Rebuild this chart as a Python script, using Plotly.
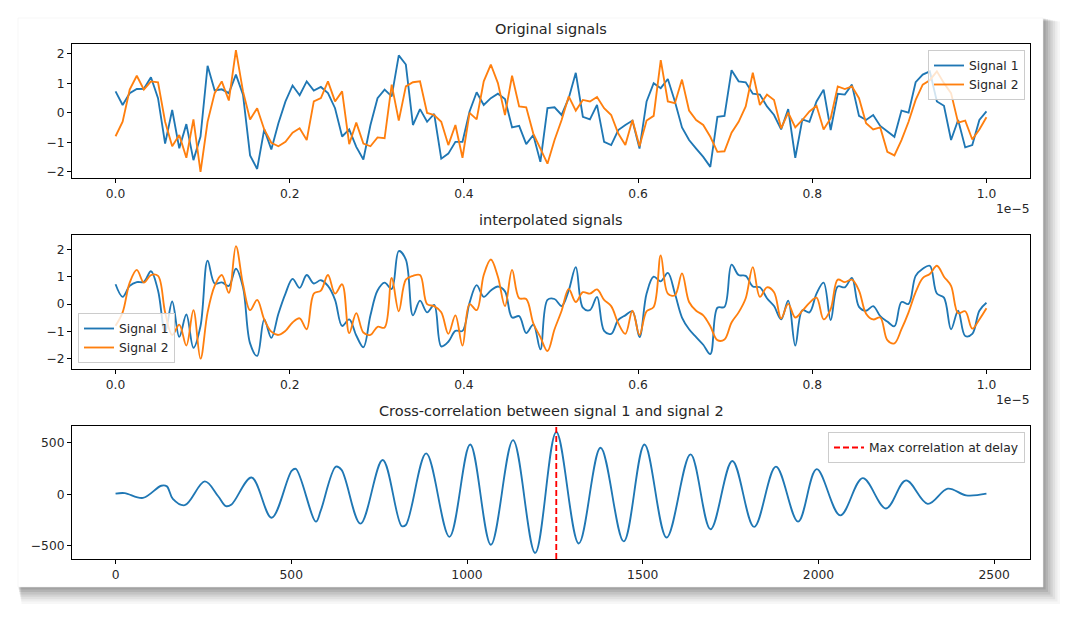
import numpy as np
import plotly.graph_objects as go

"""Original / interpolated signals and their cross-correlation, drawn on a card."""

# the page body keeps its 8px default margin, so the figure is a bit smaller
# than the window and every pixel position is shifted back by that margin
PAGE_MARGIN = 8
W, H = 1080 - 2 * PAGE_MARGIN, 624 - 2 * PAGE_MARGIN

# values (same length, evenly spaced over 0 .. 1e-5 s)
signal_1 = [
    0.73, 0.27, 0.67, 0.81, 0.82, 1.21, 0.5, -1.04, 0.1, -1.2, -0.38, -1.6, -0.8, 1.6,
    0.76, 0.8, 0.67, 1.3, 0.62, -1.44, -1.9, -0.56, -1.24, -0.35, 0.39, 0.93, 0.6, 1.07,
    0.76, 0.88, 0.67, 0.16, -0.8, -0.56, -1.15, -1.58, -0.41, 0.5, 0.79, 0.56, 1.95, 1.64,
    -0.41, 0.13, -0.3, -0.03, -1.55, -1.38, -0.98, -0.98, 0.05, 0.7, 0.27, 0.5, 0.65, 0.47,
    -0.49, -0.44, -1.06, -0.75, -1.66, 0.16, 0.19, -0.07, 0.5, 1.36, -0.13, -0.22, 0.27,
    -0.98, -1.09, -0.58, -0.41, -0.26, -1.21, 0.39, 1.01, 0.84, 1.15, 0.39, -0.49, -0.92,
    -1.21, -1.49, -1.83, -0.13, -0.1, 1.45, 1.07, 1.04, 0.65, 0.62, 0.22, -0.07, -0.56,
    0.13, -1.52, -0.22, -0.3, 0.39, 0.79, -0.58, 0.65, 0.62, 0.96, -0.1, -0.24, -0.07,
    -0.44, -0.64, -0.81, 0.08, 0.01, 1.04, 1.3, 1.41, 0.39, 0.24, -0.92, -0.24, -1.17,
    -1.09, -0.24, 0.05,
]
signal_2 = [
    -0.79, -0.3, 0.79, 1.26, 0.79, 1.07, 1.04, -0.3, -1.13, -0.75, -1.52, -0.22, -2.0,
    -0.3, 0.67, 1.07, 0.42, 2.13, 0.73, -0.22, 0.16, -0.56, -1.01, -1.13, -0.98, -0.67,
    -0.52, -0.92, 0.39, 0.5, 1.07, 0.39, 0.73, -1.06, -0.33, -1.04, -1.13, -0.83, -0.86,
    0.96, -0.26, 0.9,
    1.04, 1.07, 0.0, -0.07, -0.3, -1.09, -0.41, -1.52, 0.0, -0.22, 1.07, 1.64, 1.01,
    -0.07, 1.26, 0.22, 0.19, -0.7, -1.21, -1.72, -0.92, -0.24, 0.56, 0.08, 0.44, 0.39,
    0.54, 0.16, -0.07, -0.7, -1.09, -0.24, -1.13, -0.26, -0.1, 1.79, 0.39, 0.33, 1.13,
    0.08, -0.24,
    -0.41, -0.81, -1.32, -1.3, -0.67, -0.3, 0.22, 1.36, 0.27, 0.62, 0.44, -0.52, 0.01,
    -0.49, -0.24, 0.05, 0.24, -0.56, -0.18, 0.9, 0.81, 0.9, 0.5, -0.35, -0.56, -0.49,
    -1.32, -1.44, -0.92, -0.3, 0.44, 0.96, 1.11, 1.41, 1.01, 0.67, -0.33, -0.26, -0.9,
    -0.56, -0.15,
]
t_end = 1e-5

# cross-correlation: turning points
corr_lags = [
    0, 26, 78, 130, 146, 163, 197, 254, 292, 314, 330, 387, 444, 501, 513, 570, 584,
    627, 643, 697, 760, 814, 826, 884, 950, 1009, 1068, 1131, 1194, 1254, 1318, 1380,
    1446, 1505, 1568, 1636, 1693, 1755, 1817, 1879, 1942, 1995, 2062, 2126, 2192, 2249,
    2311, 2368, 2420, 2478,
]
corr_vals = [
    7, 12, -35, 83, 77, -44, -106, 125, -19, -115, -99, 163, -228, 228, 247, -266, -157,
    269, 237, -285, 333, -308, -298, 397, -413, 484, -490, 526, -570, 605, -478, 452,
    -458, 484, -420, 388, -340, 324, -317, 269, -266, 244, -205, 157, -138, 135, -93, 55,
    -10, 6,
]

x_tick_vals = [0.0, 0.2e-5, 0.4e-5, 0.6e-5, 0.8e-5, 1.0e-5]
x_tick_text = ["0.0", "0.2", "0.4", "0.6", "0.8", "1.0"]
lag_tick_vals = [0, 500, 1000, 1500, 2000, 2500]

BLUE, ORANGE = "#1f77b4", "#ff7f0e"
FONT = "DejaVu Sans"

# card and axes boxes in window pixels
card = (18, 18, 1043, 587)
ax_left, ax_right = 72, 1030
panels = [(44, 178), (235, 369), (426, 559)]


def px_x(v):
    return (v - PAGE_MARGIN) / W


def px_y(v):
    return 1 - (v - PAGE_MARGIN) / H


def padded(lo, hi, frac=0.05):
    span = hi - lo
    return [lo - span * frac, hi + span * frac]


t1 = np.linspace(0, t_end, len(signal_1))
t2 = np.linspace(0, t_end, len(signal_2))
sig_range = padded(min(min(signal_1), min(signal_2)), max(max(signal_1), max(signal_2)))
interp_range = padded(sig_range[0] + 0.05, sig_range[1] - 0.02)
t_range = padded(0, t_end)
lag_range = padded(0, max(corr_lags))
corr_range = padded(min(corr_vals), max(corr_vals))
max_lag = corr_lags[int(np.argmax(corr_vals))]

fig = go.Figure()

line_w = 1.85
fig.add_trace(go.Scatter(x=t1, y=signal_1, mode="lines", name="Signal 1",
                         line=dict(color=BLUE, width=line_w), xaxis="x", yaxis="y",
                         legend="legend"))
fig.add_trace(go.Scatter(x=t2, y=signal_2, mode="lines", name="Signal 2",
                         line=dict(color=ORANGE, width=line_w), xaxis="x", yaxis="y",
                         legend="legend"))
fig.add_trace(go.Scatter(x=t1, y=signal_1, mode="lines", name="Signal 1",
                         line=dict(color=BLUE, width=line_w, shape="spline", smoothing=1.0),
                         xaxis="x2", yaxis="y2", legend="legend2"))
fig.add_trace(go.Scatter(x=t2, y=signal_2, mode="lines", name="Signal 2",
                         line=dict(color=ORANGE, width=line_w, shape="spline", smoothing=1.0),
                         xaxis="x2", yaxis="y2", legend="legend2"))
fig.add_trace(go.Scatter(x=corr_lags, y=corr_vals, mode="lines", showlegend=False,
                         line=dict(color=BLUE, width=line_w, shape="spline", smoothing=1.0),
                         xaxis="x3", yaxis="y3"))
fig.add_trace(go.Scatter(x=[max_lag, max_lag], y=corr_range, mode="lines",
                         name="Max correlation at delay",
                         line=dict(color="#ff0000", width=line_w, dash="6px,3px"),
                         xaxis="x3", yaxis="y3", legend="legend3"))

axis_common = dict(
    showgrid=False, zeroline=False, showline=True, mirror=True, linecolor="black",
    linewidth=1, ticks="outside", ticklen=4, tickwidth=1, tickcolor="black",
    tickfont=dict(family=FONT, size=12.3, color="#262626"), automargin=False,
)
x_dom = [px_x(ax_left), px_x(ax_right)]
layout_axes = {}
for i, (top, bottom) in enumerate(panels, start=1):
    sfx = "" if i == 1 else str(i)
    y_dom = [px_y(bottom), px_y(top)]
    layout_axes["xaxis" + sfx] = dict(axis_common, domain=x_dom, anchor="y" + sfx)
    layout_axes["yaxis" + sfx] = dict(axis_common, domain=y_dom, anchor="x" + sfx)

layout_axes["xaxis"].update(range=t_range, tickvals=x_tick_vals, ticktext=x_tick_text)
layout_axes["xaxis2"].update(range=t_range, tickvals=x_tick_vals, ticktext=x_tick_text)
layout_axes["xaxis3"].update(range=lag_range, tickvals=lag_tick_vals)
layout_axes["yaxis"].update(range=sig_range, dtick=1)
layout_axes["yaxis2"].update(range=interp_range, dtick=1)
layout_axes["yaxis3"].update(range=corr_range, dtick=500)

legend_common = dict(
    bgcolor="rgba(255,255,255,0.8)", bordercolor="#cccccc", borderwidth=1,
    font=dict(family=FONT, size=12.3, color="#262626"), itemwidth=30,
    tracegroupgap=0,
)

# soft shadow under the card, then the card itself
shapes = []
for k, alpha in enumerate([0.03, 0.04, 0.05, 0.06, 0.07, 0.08, 0.09]):
    off = 17 - 2.4 * k
    shapes.append(dict(type="rect", xref="paper", yref="paper", layer="below",
                       x0=px_x(card[0] + off * 0.2), x1=px_x(card[2] + off),
                       y0=px_y(card[3] + off), y1=px_y(card[1] + off * 0.2),
                       fillcolor=f"rgba(0,0,0,{alpha})", line=dict(width=0)))
shapes.append(dict(type="rect", xref="paper", yref="paper", layer="below",
                   x0=px_x(card[0]), x1=px_x(card[2]), y0=px_y(card[3]), y1=px_y(card[1]),
                   fillcolor="white", line=dict(width=0.5, color="#eeeeee")))

titles = ["Original signals", "interpolated signals",
          "Cross-correlation between signal 1 and signal 2"]
annotations = []
for (top, bottom), text in zip(panels, titles):
    annotations.append(dict(text=text, xref="paper", yref="paper",
                            x=px_x((ax_left + ax_right) / 2), y=px_y(top - 5),
                            xanchor="center", yanchor="bottom", showarrow=False,
                            font=dict(family=FONT, size=14.5, color="#262626")))
for top, bottom in panels[:2]:
    annotations.append(dict(text="1e\u22125", xref="paper", yref="paper",
                            x=px_x(ax_right + 2), y=px_y(bottom + 22),
                            xanchor="right", yanchor="top", showarrow=False,
                            font=dict(family=FONT, size=12.3, color="#262626")))

fig.update_layout(
    width=W, height=H,
    margin=dict(l=0, r=0, t=0, b=0, pad=0),
    paper_bgcolor="white", plot_bgcolor="white",
    template=None,
    shapes=shapes, annotations=annotations,
    legend=dict(legend_common, x=px_x(1025), y=px_y(50), xanchor="right", yanchor="top"),
    legend2=dict(legend_common, x=px_x(78), y=px_y(363), xanchor="left", yanchor="bottom"),
    legend3=dict(legend_common, x=px_x(1025), y=px_y(432), xanchor="right", yanchor="top"),
    **layout_axes,
)

fig.write_html("out.html")
